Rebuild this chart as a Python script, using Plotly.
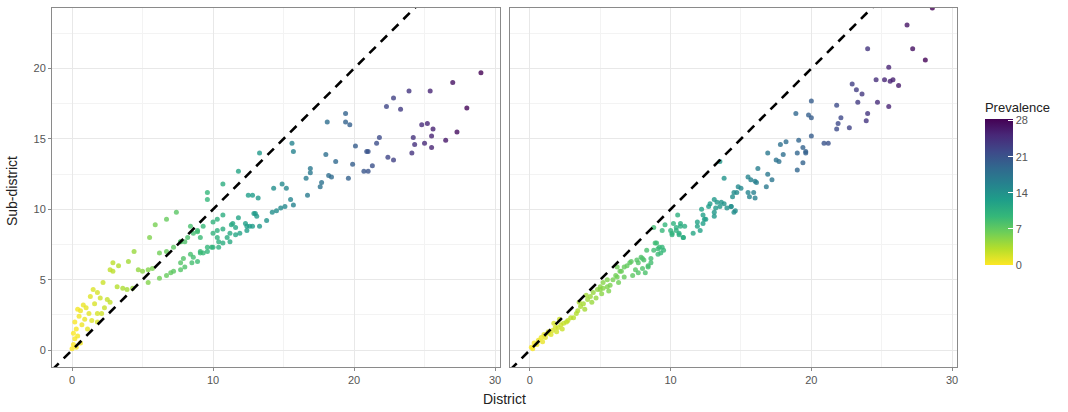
import plotly.graph_objects as go

# ---------------- data ----------------
left_district = [
    0.0, 0.1, 0.2, 0.1, 0.3, 0.2, 0.4, 0.5, 0.6, 0.4, 0.8, 1.0, 0.7, 0.9, 1.2, 1.4, 1.8, 1.8, 2.1, 1.3,
    1.5, 1.8, 2.2, 2.5, 2.7, 2.7, 2.9, 2.9, 3.3, 1.1, 0.6, 0.3, 1.6, 2.0, 2.3,
    4.0, 4.4, 5.5, 5.9, 6.7, 7.4, 9.6, 9.6, 10.7, 11.8, 13.3, 15.6, 15.7, 18.1, 19.4, 19.4, 19.7, 22.3,
    22.8, 23.9, 25.4, 27.0, 29.0, 23.3, 28.0,
    3.2, 3.6, 3.9, 4.3, 4.7, 5.0, 5.4, 5.7, 6.2, 6.7, 7.2, 7.7, 8.2, 8.6, 8.9, 8.4, 9.3, 10.0, 10.3, 10.7,
    10.0, 10.3, 11.4, 12.8, 13.0, 12.5, 13.2, 12.9, 13.1, 11.8, 12.3, 14.9, 15.2, 14.3, 16.9, 16.9, 16.6,
    18.2, 18.4, 17.7, 17.6, 19.6, 18.0, 18.7, 19.9, 21.3, 20.7, 21.0, 20.1, 21.6, 21.8, 21.0, 20.9, 22.4,
    22.8, 24.2, 24.3, 25.0, 25.5, 24.1, 24.8, 25.2, 25.6, 25.5, 27.3, 26.5,
    5.4, 6.2, 6.7, 7.0, 7.2, 7.7, 8.0, 8.5, 8.9, 7.9, 7.7, 8.4, 8.6, 9.1, 9.3, 9.1, 9.6, 9.6, 9.9, 10.0,
    10.4, 10.3, 10.4, 10.7, 11.0, 11.2, 11.2, 10.7, 11.6, 11.9, 11.3, 11.6, 12.4, 12.4, 12.6, 12.8, 13.3,
    13.8, 14.2, 14.5, 14.8, 15.1, 15.5, 15.7, 16.7, 8.0, 7.7, 8.9, 9.1,
]
left_subdistrict = [
    0.1, 0.4, 0.8, 1.2, 1.5, 2.0, 1.0, 2.4, 2.8, 2.9, 3.2, 3.0, 1.8, 2.2, 2.6, 2.1, 2.0, 2.6, 2.6, 3.8,
    4.3, 4.1, 4.8, 3.6, 3.4, 5.7, 5.6, 6.2, 6.0, 1.5, 0.5, 0.2, 3.3, 3.7, 3.0,
    6.3, 7.0, 8.0, 8.9, 9.3, 9.8, 10.7, 11.2, 11.8, 12.7, 14.0, 14.7, 14.1, 16.2, 16.8, 16.2, 16.0, 17.3,
    17.9, 18.4, 18.4, 19.0, 19.7, 17.1, 17.2,
    4.5, 4.4, 4.3, 4.4, 5.7, 5.6, 5.7, 5.8, 6.9, 7.0, 7.3, 7.7, 8.0, 8.3, 8.4, 8.8, 8.8, 9.1, 9.3, 9.6,
    8.3, 8.5, 9.0, 11.0, 9.7, 11.0, 10.8, 9.7, 9.5, 9.4, 9.0, 11.8, 11.5, 11.5, 12.9, 12.6, 12.2,
    12.4, 12.3, 11.9, 11.6, 12.2, 13.9, 13.4, 13.2, 13.1, 12.7, 12.7, 14.5, 14.7, 15.1, 14.1, 14.1, 13.7,
    13.5, 15.1, 14.6, 14.7, 14.4, 14.0, 16.0, 16.1, 15.7, 15.2, 15.5, 14.9,
    4.8, 5.1, 5.3, 5.5, 5.6, 5.7, 5.9, 6.2, 6.3, 6.5, 6.2, 6.8, 6.6, 7.0, 6.9, 6.9, 7.0, 7.3, 7.3, 7.3,
    7.3, 8.0, 7.7, 7.6, 8.0, 7.7, 8.3, 8.6, 8.2, 8.3, 8.9, 8.7, 8.5, 8.8, 8.8, 8.8, 8.8,
    9.2, 9.8, 9.9, 10.1, 10.2, 10.7, 10.3, 11.0, 7.7, 7.7, 8.5, 8.0,
]

right_district = [
    0.1, 0.3, 0.6, 0.8, 1.0, 1.3, 1.3, 1.6, 1.8, 2.0, 2.2, 2.4, 2.7, 2.9, 3.1, 0.2, 0.5, 0.9, 1.1, 1.5,
    1.9, 2.3, 2.6, 3.3, 2.1, 1.7,
    3.4, 3.6, 3.8, 4.1, 4.3, 4.5, 4.8, 5.0, 5.2, 5.5, 3.9, 4.4, 4.7, 5.1, 5.6, 4.0, 3.5,
    5.0, 5.2, 5.5, 5.7, 5.9, 6.3, 6.1, 6.7, 6.2, 6.5,
    7.9, 8.1, 7.7, 8.4, 8.0, 7.5, 7.2, 6.9, 7.7, 7.3, 8.6,
    8.9, 9.2, 8.8, 9.3, 9.1, 8.3,
    6.2, 6.4, 6.7, 7.1, 7.6, 8.0, 8.2, 8.4, 8.6, 9.1, 9.4, 9.5, 9.0, 8.8, 9.4, 9.6, 10.1, 10.6, 10.9,
    10.4, 10.7, 11.9, 12.4, 12.2, 12.8, 13.6, 14.3, 14.6,
    10.5, 10.2, 10.4, 10.6, 10.9, 11.0, 10.7, 10.0, 10.1, 12.3, 12.5, 12.3, 11.9, 11.6, 12.1, 13.1, 13.3,
    13.5, 13.8, 14.0, 12.7, 13.2, 14.5, 14.3, 13.1, 13.1, 13.8, 14.5, 14.4, 15.5, 15.6, 16.0, 15.0, 15.5,
    15.7, 16.2, 16.9, 17.2, 16.0, 16.1, 16.8, 15.9, 14.7, 14.8, 13.5, 16.9, 17.5, 17.7, 18.0, 17.8, 18.2,
    19.0, 19.4, 19.0, 19.4, 19.6, 19.6, 19.1, 20.0, 20.9, 21.2, 18.9, 19.8, 20.0, 20.0, 21.8, 22.1, 21.9,
    21.8, 22.7, 24.0, 23.9, 23.3, 24.7, 25.5, 22.9, 23.2, 23.6, 24.6, 25.2, 25.6, 25.8, 26.2, 24.0, 25.5,
    27.2, 28.1, 26.8, 28.6,
]
right_subdistrict = [
    0.2, 0.5, 0.7, 0.9, 1.1, 1.2, 1.3, 1.4, 1.6, 1.6, 1.8, 1.9, 2.1, 2.3, 2.3, 0.1, 0.4, 0.6, 0.9, 1.1,
    1.3, 1.5, 2.0, 2.6, 2.2, 1.9,
    2.8, 3.1, 3.3, 3.6, 3.8, 4.1, 4.3, 4.5, 4.8, 5.0, 2.9, 3.4, 3.7, 4.0, 4.2, 3.9, 3.4,
    4.3, 4.4, 4.5, 4.6, 5.0, 4.8, 5.3, 5.2, 5.9, 5.6,
    6.6, 6.4, 6.2, 6.0, 5.8, 5.7, 6.3, 6.0, 5.5, 5.3, 6.5,
    7.6, 7.3, 7.1, 6.9, 6.8, 7.1,
    5.2, 5.6, 5.9, 6.2, 6.4, 6.5, 5.5, 5.9, 6.2, 7.2, 7.3, 7.1, 7.6, 8.7, 8.5, 8.9, 8.3, 8.2, 8.0,
    8.7, 8.8, 9.1, 9.3, 10.0, 10.4, 10.5, 10.2, 9.9,
    9.6, 9.0, 8.5, 8.3, 8.0, 8.8, 9.0, 8.5, 8.2, 9.6, 9.3, 9.0, 8.8, 8.3, 8.5, 10.7, 10.5,
    10.2, 10.4, 10.1, 10.2, 10.1, 9.8, 10.2, 9.8, 9.5, 12.2, 11.2, 10.9, 11.2, 10.9, 10.8, 11.5, 12.3,
    12.1, 12.9, 12.5, 12.1, 12.0, 11.9, 11.6, 11.2, 11.2, 11.6, 13.4, 14.0, 13.5, 13.4, 13.9, 14.6, 14.8,
    12.8, 13.3, 14.0, 14.4, 14.1, 14.0, 14.9, 15.2, 14.7, 14.7, 16.8, 16.7, 16.5, 17.7, 17.4, 16.5, 16.1,
    15.7, 15.8, 16.8, 16.3, 17.6, 17.6, 17.3, 18.9, 18.5, 18.2, 19.2, 19.2, 19.1, 19.2, 18.8, 21.4, 20.1,
    21.4, 20.6, 23.1, 24.3,
]

# Prevalence (colour) is the district prevalence of each area
left_prevalence = left_district
right_prevalence = right_district

identity_line = [-3, 35]          # y = x reference line
x_ticks = [0, 10, 20, 30]
y_ticks = [0, 5, 10, 15, 20]
colorbar_ticks = [0, 7, 14, 21, 28]

# ---------------- figure ----------------
FONT = "Liberation Sans, Arial, sans-serif"
GRID = "#e8e8e8"
MINOR = "#f3f3f3"
BORDER = "#8a8a8a"
TICKFONT = dict(family=FONT, size=11, color="#555555")

fig = go.Figure()

marker_common = dict(
    size=5,
    colorscale="Viridis",
    reversescale=True,
    cmin=0,
    cmax=28.3,
    opacity=0.8,
    line=dict(width=0),
)

for i, (xs, ys, cs) in enumerate([
    (left_district, left_subdistrict, left_prevalence),
    (right_district, right_subdistrict, right_prevalence),
]):
    xa = "x" if i == 0 else "x2"
    ya = "y" if i == 0 else "y2"
    m = dict(marker_common, color=cs, showscale=(i == 0))
    if i == 0:
        m["colorbar"] = dict(
            title=dict(text="Prevalence", side="top",
                       font=dict(family=FONT, size=13, color="#222222")),
            tickvals=colorbar_ticks,
            tickfont=TICKFONT,
            ticks="inside",
            ticklen=5,
            tickcolor="white",
            thickness=28,
            lenmode="pixels",
            len=166,
            xpad=0,
            ypad=0,
            x=1.0309,
            xanchor="left",
            y=0.7465,
            yanchor="top",
            outlinewidth=0,
        )
    fig.add_trace(go.Scatter(
        x=xs, y=ys, mode="markers", marker=m,
        xaxis=xa, yaxis=ya, showlegend=False, hoverinfo="x+y",
    ))
    fig.add_trace(go.Scatter(
        x=identity_line, y=identity_line, mode="lines",
        line=dict(color="black", width=2.6, dash="9px,7px"),
        xaxis=xa, yaxis=ya, showlegend=False, hoverinfo="skip",
    ))

xrange = [-1.42, 30.35]
yrange = [-1.2, 24.3]

axis_common = dict(
    showline=True, mirror=True, linecolor=BORDER, linewidth=1,
    showgrid=True, gridcolor=GRID, gridwidth=1,
    zeroline=False, ticks="outside", ticklen=3, tickcolor=BORDER,
    tickfont=TICKFONT, automargin=False,
)

fig.update_layout(
    width=1068, height=412,
    margin=dict(l=52, r=111, t=8, b=45, autoexpand=False),
    paper_bgcolor="white", plot_bgcolor="white",
    font=dict(family=FONT),
    hovermode=False,
    xaxis=dict(axis_common, domain=[0, 0.495], range=xrange, tickvals=x_ticks,
               minor=dict(dtick=5, tick0=0, showgrid=True, gridcolor=MINOR, ticks="")),
    xaxis2=dict(axis_common, domain=[0.506, 1], range=xrange, tickvals=x_ticks,
                minor=dict(dtick=5, tick0=0, showgrid=True, gridcolor=MINOR, ticks="")),
    yaxis=dict(axis_common, domain=[0, 1], range=yrange, tickvals=y_ticks, anchor="x",
               minor=dict(dtick=2.5, tick0=0, showgrid=True, gridcolor=MINOR, ticks="")),
    yaxis2=dict(axis_common, domain=[0, 1], range=yrange, tickvals=y_ticks, anchor="x2",
                showticklabels=False, ticks="",
                minor=dict(dtick=2.5, tick0=0, showgrid=True, gridcolor=MINOR, ticks="")),
    annotations=[
        dict(text="District", xref="paper", yref="paper", x=0.5, y=0,
             xanchor="center", yanchor="top", yshift=-22, showarrow=False,
             font=dict(family=FONT, size=14, color="#222222")),
        dict(text="Sub-district", xref="paper", yref="paper", x=0, y=0.49,
             xanchor="right", yanchor="middle", xshift=-30, textangle=-90,
             showarrow=False, font=dict(family=FONT, size=14, color="#222222")),
    ],
)

# Place the figure at the page's top-left corner (no default body margin).
fig.write_html(
    "out.html",
    config={"displayModeBar": False},
    post_script="document.body.style.margin='0';document.body.style.overflow='hidden';",
)
